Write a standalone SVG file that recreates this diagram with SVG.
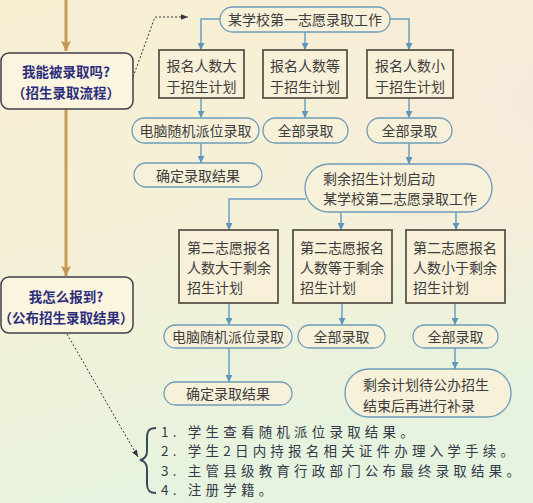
<svg xmlns="http://www.w3.org/2000/svg" width="533" height="503" viewBox="0 0 533 503">
<defs>
<linearGradient id="bg" x1="0" y1="0" x2="0.3" y2="1">
<stop offset="0" stop-color="#f8efd3"/>
<stop offset="0.55" stop-color="#f4f1d8"/>
<stop offset="1" stop-color="#e6f3df"/>
</linearGradient>
<radialGradient id="pink" cx="1" cy="0.2" r="0.5">
<stop offset="0" stop-color="#f9e8dc" stop-opacity="0.8"/>
<stop offset="1" stop-color="#f9e8dc" stop-opacity="0"/>
</radialGradient>
<marker id="ab" viewBox="0 0 10 10" refX="10" refY="5" markerWidth="7" markerHeight="7" markerUnits="userSpaceOnUse" orient="auto">
<path d="M0,0 L10,5 L0,10 z" fill="#5f97bb"/>
</marker>
<marker id="abr" viewBox="0 0 10 10" refX="10" refY="5" markerWidth="10" markerHeight="10" markerUnits="userSpaceOnUse" orient="auto">
<path d="M0,0 L10,5 L0,10 L2,5 z" fill="#c49553"/>
</marker>
<marker id="ad" viewBox="0 0 10 10" refX="10" refY="5" markerWidth="7" markerHeight="7" markerUnits="userSpaceOnUse" orient="auto">
<path d="M0,1 L10,5 L0,9 z" fill="#333"/>
</marker>
</defs>
<style>
.q{fill:#fbf4de;stroke:#3e3e4a;stroke-width:1.5}
.qt{font-family:"Noto Sans CJK SC","Noto Sans",sans-serif;font-weight:bold;font-size:13.5px;fill:#2c2e7c;text-anchor:middle}
.st{fill:#f8f1da;stroke:#6d9cb8;stroke-width:1.3}
.bx{fill:#f8f0d8;stroke:#5b564a;stroke-width:1.8}
.t{font-family:"Noto Sans CJK SC","Noto Sans",sans-serif;font-size:14px;fill:#3d3d3d}
.m{text-anchor:middle}
.c{fill:none;stroke:#6a9fc2;stroke-width:1.5}
.br{fill:none;stroke:#c89a58;stroke-width:3}
.dot{fill:none;stroke:#333;stroke-width:1;stroke-dasharray:2 2}
.li{font-family:"Noto Sans CJK SC","Noto Sans",sans-serif;font-size:13.5px;fill:#333a48;letter-spacing:4.2px}
</style>
<rect width="533" height="503" fill="url(#bg)"/>
<rect width="533" height="503" fill="url(#pink)"/>

<g id="connectors">
<path class="br" d="M66,0 V51" marker-end="url(#abr)"/>
<path class="br" d="M66,109 V276" marker-end="url(#abr)"/>
<path class="dot" d="M133,77 L155,17 H188" marker-end="url(#ad)"/>
<path class="dot" d="M67,334 L138,457" marker-end="url(#ad)"/>
<path class="c" d="M220,19 H201 V50" marker-end="url(#ab)"/>
<path class="c" d="M305,32 V50" marker-end="url(#ab)"/>
<path class="c" d="M390,19 H409 V50" marker-end="url(#ab)"/>
<path class="c" d="M201,98 V118" marker-end="url(#ab)"/>
<path class="c" d="M305,98 V118" marker-end="url(#ab)"/>
<path class="c" d="M409,98 V118" marker-end="url(#ab)"/>
<path class="c" d="M201,143 V163" marker-end="url(#ab)"/>
<path class="c" d="M409,143 V164" marker-end="url(#ab)"/>
<path class="c" d="M306,199 H229 V230" marker-end="url(#ab)"/>
<path class="c" d="M341,212 V230" marker-end="url(#ab)"/>
<path class="c" d="M456,209 V230" marker-end="url(#ab)"/>
<path class="c" d="M229,303 V325" marker-end="url(#ab)"/>
<path class="c" d="M342,303 V325" marker-end="url(#ab)"/>
<path class="c" d="M455,303 V325" marker-end="url(#ab)"/>
<path class="c" d="M229,348 V382" marker-end="url(#ab)"/>
<path class="c" d="M455,348 V369" marker-end="url(#ab)"/>
</g>

<g id="q1">
<rect class="q" x="1" y="53" width="132" height="56" rx="8"/>
<text class="qt" x="66" y="77">我能被录取吗?</text>
<text class="qt" x="66" y="98">（招生录取流程）</text>
</g>
<g id="q2">
<rect class="q" x="1" y="277" width="132" height="56" rx="8"/>
<text class="qt" x="66" y="302">我怎么报到?</text>
<text class="qt" x="66" y="323">（公布招生录取结果）</text>
</g>

<g id="n_top">
<rect class="st" x="220" y="7" width="170" height="25" rx="12.5"/>
<text class="t m" x="305" y="24.5">某学校第一志愿录取工作</text>
</g>
<g id="n_a">
<rect class="bx" x="159" y="50" width="85" height="48"/>
<text class="t m" x="201.5" y="70.5">报名人数大</text>
<text class="t m" x="201.5" y="91.5">于招生计划</text>
</g>
<g id="n_b">
<rect class="bx" x="263" y="50" width="84" height="48"/>
<text class="t m" x="305" y="70.5">报名人数等</text>
<text class="t m" x="305" y="91.5">于招生计划</text>
</g>
<g id="n_c">
<rect class="bx" x="367" y="50" width="86" height="48"/>
<text class="t m" x="410" y="70.5">报名人数小</text>
<text class="t m" x="410" y="91.5">于招生计划</text>
</g>
<g id="n_a2">
<rect class="st" x="132" y="118" width="127" height="25" rx="12.5"/>
<text class="t m" x="195.5" y="135.5">电脑随机派位录取</text>
</g>
<g id="n_b2">
<rect class="st" x="263" y="118" width="85" height="25" rx="12.5"/>
<text class="t m" x="305.5" y="135.5">全部录取</text>
</g>
<g id="n_c2">
<rect class="st" x="367" y="118" width="85" height="25" rx="12.5"/>
<text class="t m" x="409.5" y="135.5">全部录取</text>
</g>
<g id="n_a3">
<rect class="st" x="134" y="163" width="128" height="24" rx="12"/>
<text class="t m" x="198" y="180.5">确定录取结果</text>
</g>
<g id="n_second">
<rect class="st" x="305" y="164" width="187" height="48" rx="24"/>
<text class="t" x="323" y="183.5">剩余招生计划启动</text>
<text class="t" x="323" y="204">某学校第二志愿录取工作</text>
</g>
<g id="n_d">
<rect class="bx" x="179" y="230" width="99" height="73"/>
<text class="t" x="187" y="252.5">第二志愿报名</text>
<text class="t" x="187" y="272.5">人数大于剩余</text>
<text class="t" x="187" y="292.5">招生计划</text>
</g>
<g id="n_e">
<rect class="bx" x="293" y="230" width="99" height="73"/>
<text class="t" x="300" y="252.5">第二志愿报名</text>
<text class="t" x="300" y="272.5">人数等于剩余</text>
<text class="t" x="300" y="292.5">招生计划</text>
</g>
<g id="n_f">
<rect class="bx" x="406" y="230" width="99" height="73"/>
<text class="t" x="413" y="252.5">第二志愿报名</text>
<text class="t" x="413" y="272.5">人数小于剩余</text>
<text class="t" x="413" y="292.5">招生计划</text>
</g>
<g id="n_d2">
<rect class="st" x="164" y="325" width="128" height="23" rx="11.5"/>
<text class="t m" x="228" y="342">电脑随机派位录取</text>
</g>
<g id="n_e2">
<rect class="st" x="298" y="325" width="87" height="23" rx="11.5"/>
<text class="t m" x="341.5" y="342">全部录取</text>
</g>
<g id="n_f2">
<rect class="st" x="413" y="325" width="85" height="23" rx="11.5"/>
<text class="t m" x="455.5" y="342">全部录取</text>
</g>
<g id="n_d3">
<rect class="st" x="164" y="382" width="128" height="23" rx="11.5"/>
<text class="t m" x="228" y="398.5">确定录取结果</text>
</g>
<g id="n_f3">
<rect class="st" x="345" y="369" width="166" height="48" rx="24"/>
<text class="t" x="363" y="390">剩余计划待公办招生</text>
<text class="t" x="363" y="410.5">结束后再进行补录</text>
</g>

<g id="list">
<path d="M156,428 C149,428 147,431 147,438 L147,451 C147,456 145,459 140,460 C145,461 147,464 147,469 L147,484 C147,490 149,493 156,493" fill="none" stroke="#3a4a5e" stroke-width="2"/>
<text class="li" x="161" y="437">1. 学生查看随机派位录取结果。</text>
<text class="li" x="161" y="456.3">2. 学生2日内持报名相关证件办理入学手续。</text>
<text class="li" x="161" y="475.6">3. 主管县级教育行政部门公布最终录取结果。</text>
<text class="li" x="161" y="495">4. 注册学籍。</text>
</g>
</svg>
